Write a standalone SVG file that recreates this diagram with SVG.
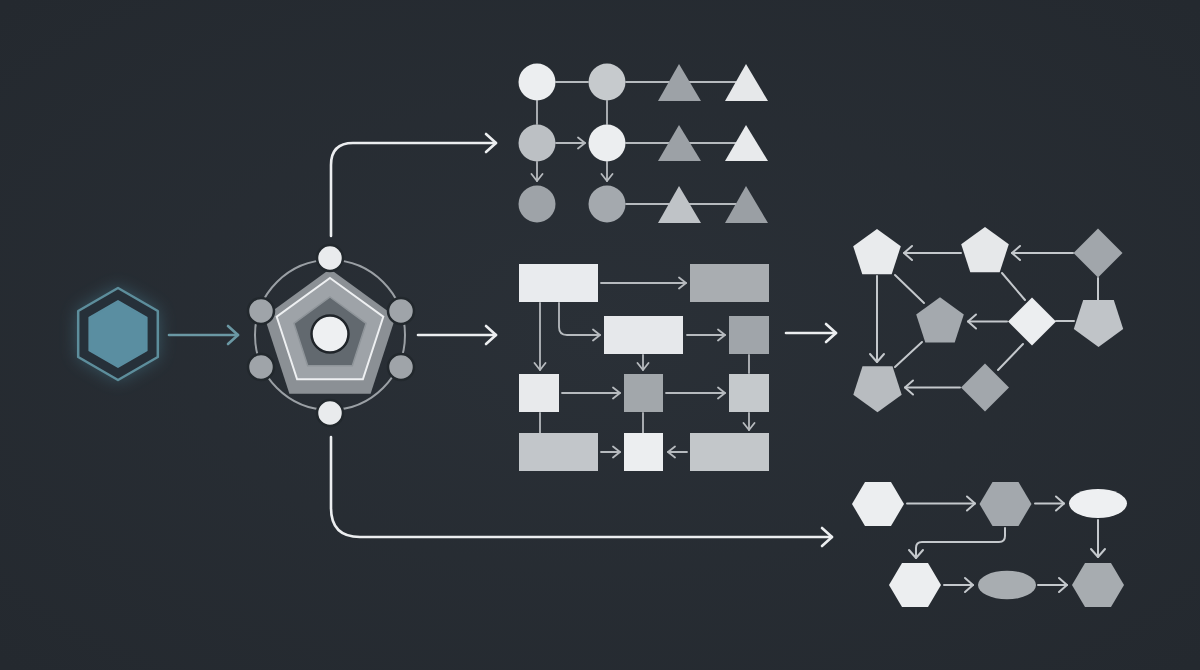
<svg xmlns="http://www.w3.org/2000/svg" width="1200" height="670" viewBox="0 0 1200 670">
  <style>
    .main { fill: none; stroke: #eceef0; stroke-width: 2.6; stroke-linecap: round; stroke-linejoin: round; }
    .teal { fill: none; stroke: #6b98a4; stroke-width: 2.6; stroke-linecap: round; }
    .med { fill: none; stroke: #c4c8cc; stroke-width: 2; stroke-linecap: round; stroke-linejoin: round; }
    .sm { fill: none; stroke: #b6babe; stroke-width: 1.8; stroke-linecap: round; stroke-linejoin: round; }
    .light { fill: #eceef0; }
    .lgray { fill: #c3c7cb; }
    .gray { fill: #a2a7ac; }
    .node-ring { stroke: #22282d; stroke-width: 2.5; }
  </style>
  <defs>
    <marker id="mBig" markerUnits="userSpaceOnUse" markerWidth="14" markerHeight="22" refX="12" refY="11" orient="auto">
      <path d="M2,2 L12,11 L2,20" fill="none" stroke="#eceef0" stroke-width="2.6" stroke-linecap="round" stroke-linejoin="round"/>
    </marker>
    <marker id="mTeal" markerUnits="userSpaceOnUse" markerWidth="14" markerHeight="22" refX="12" refY="11" orient="auto">
      <path d="M2,2 L12,11 L2,20" fill="none" stroke="#6b98a4" stroke-width="2.6" stroke-linecap="round" stroke-linejoin="round"/>
    </marker>
    <marker id="mMed" markerUnits="userSpaceOnUse" markerWidth="12" markerHeight="18" refX="10" refY="9" orient="auto">
      <path d="M2,2 L10,9 L2,16" fill="none" stroke="#c4c8cc" stroke-width="2" stroke-linecap="round" stroke-linejoin="round"/>
    </marker>
    <marker id="mSm" markerUnits="userSpaceOnUse" markerWidth="10" markerHeight="14" refX="8.5" refY="7" orient="auto">
      <path d="M1.5,1.5 L8.5,7 L1.5,12.5" fill="none" stroke="#b6babe" stroke-width="1.8" stroke-linecap="round" stroke-linejoin="round"/>
    </marker>
    <filter id="glow" x="-60%" y="-60%" width="220%" height="220%">
      <feGaussianBlur stdDeviation="9"/>
    </filter>
    <radialGradient id="bg" cx="50%" cy="50%" r="70%">
      <stop offset="0" stop-color="#2a3037"/>
      <stop offset="1" stop-color="#24292f"/>
    </radialGradient>
  </defs>

  <rect x="0" y="0" width="1200" height="670" fill="url(#bg)"/>

  <!-- Connectors -->
  <g id="connectors">
    <!-- main -->
    <path class="teal" d="M169,335 H238" marker-end="url(#mTeal)"/>
    <path class="main" d="M331,236 V165 Q331,143 353,143 H496" marker-end="url(#mBig)"/>
    <path class="main" d="M418,335 H496" marker-end="url(#mBig)"/>
    <path class="main" d="M331,437 V508 Q331,537 360,537 H832" marker-end="url(#mBig)"/>
    <path class="main" d="M786,333 H836" marker-end="url(#mBig)"/>

    <!-- top grid -->
    <path class="sm" d="M556,82 H588"/>
    <path class="sm" d="M626,82 H669"/>
    <path class="sm" d="M689,82 H736"/>
    <path class="sm" d="M537,101 V124"/>
    <path class="sm" d="M607,101 V124"/>
    <path class="sm" d="M556,143 H585" marker-end="url(#mSm)"/>
    <path class="sm" d="M626,143 H669"/>
    <path class="sm" d="M689,143 H736"/>
    <path class="sm" d="M537,162 V181" marker-end="url(#mSm)"/>
    <path class="sm" d="M607,162 V181" marker-end="url(#mSm)"/>
    <path class="sm" d="M626,204 H669"/>
    <path class="sm" d="M689,204 H736"/>

    <!-- middle grid -->
    <path class="sm" d="M601,283 H686" marker-end="url(#mSm)"/>
    <path class="sm" d="M540,303 V370" marker-end="url(#mSm)"/>
    <path class="sm" d="M559,303 V327 Q559,335 567,335 H600" marker-end="url(#mSm)"/>
    <path class="sm" d="M687,335 H725" marker-end="url(#mSm)"/>
    <path class="sm" d="M643,355 V370" marker-end="url(#mSm)"/>
    <path class="sm" d="M749,355 V373"/>
    <path class="sm" d="M562,393 H620" marker-end="url(#mSm)"/>
    <path class="sm" d="M666,393 H725" marker-end="url(#mSm)"/>
    <path class="sm" d="M540,413 V433"/>
    <path class="sm" d="M643,413 V433"/>
    <path class="sm" d="M749,413 V430" marker-end="url(#mSm)"/>
    <path class="sm" d="M601,452 H620" marker-end="url(#mSm)"/>
    <path class="sm" d="M687,452 H668" marker-end="url(#mSm)"/>

    <!-- right graph -->
    <path class="med" d="M961,253 H904" marker-end="url(#mMed)"/>
    <path class="med" d="M1073,253 H1012" marker-end="url(#mMed)"/>
    <path class="med" d="M877,276 V362" marker-end="url(#mMed)"/>
    <path class="med" d="M895,275 L924,303"/>
    <path class="med" d="M1002,273 L1025,300"/>
    <path class="med" d="M1007,321.5 H968" marker-end="url(#mMed)"/>
    <path class="med" d="M1098,278 V300"/>
    <path class="med" d="M1056,321 H1074"/>
    <path class="med" d="M922,342 L895,367"/>
    <path class="med" d="M1023,344 L998,370"/>
    <path class="med" d="M960,387.5 H905" marker-end="url(#mMed)"/>

    <!-- bottom right -->
    <path class="med" d="M907,503.5 H975" marker-end="url(#mMed)"/>
    <path class="med" d="M1035,503.5 H1064" marker-end="url(#mMed)"/>
    <path class="med" d="M1098,520 V557" marker-end="url(#mMed)"/>
    <path class="med" d="M1005,528 V536 Q1005,542 999,542 H922 Q916,542 916,548 V558" marker-end="url(#mMed)"/>
    <path class="med" d="M944,585 H973" marker-end="url(#mMed)"/>
    <path class="med" d="M1038,585 H1067" marker-end="url(#mMed)"/>
  </g>

  <!-- Source hexagon -->
  <g id="source">
    <polygon points="118,288 157.8,311 157.8,357 118,380 78.2,357 78.2,311" fill="#4f8fa5" opacity="0.45" filter="url(#glow)"/>
    <polygon points="118,288 157.8,311 157.8,357 118,380 78.2,357 78.2,311" fill="#263039" stroke="#5d8e9c" stroke-width="2.5" stroke-linejoin="round"/>
    <polygon points="118,301 146.6,317.5 146.6,350.5 118,367 89.4,350.5 89.4,317.5" fill="#5a8ea1" stroke="#5a8ea1" stroke-width="2" stroke-linejoin="round"/>
  </g>

  <!-- Central hub -->
  <g id="hub">
    <circle cx="330" cy="335" r="75" fill="none" stroke="#9ba0a5" stroke-width="2"/>
    <polygon points="330,269 395.6,316.7 370.6,393.8 289.4,393.8 264.4,316.7" fill="#8b9095"/>
    <polygon points="330,278 383.3,316.7 362.9,379.3 297.1,379.3 276.7,316.7" fill="#9ea3a8" stroke="#eef0f2" stroke-width="2"/>
    <polygon points="330,297 366.1,323.3 352.3,365.7 307.7,365.7 293.9,323.3" fill="#62696f" stroke="#8f959a" stroke-width="1.5"/>
    <circle cx="330" cy="334" r="18.5" fill="#eef0f2" stroke="#1f2429" stroke-width="2.5"/>
  </g>
  <g id="hub-node-top"><circle cx="330" cy="258" r="13" fill="#e9ebed" class="node-ring"/></g>
  <g id="hub-node-bottom"><circle cx="330" cy="413" r="13" fill="#e9ebed" class="node-ring"/></g>
  <g id="hub-node-ul"><circle cx="261" cy="311" r="13" fill="#9fa4a9" class="node-ring"/></g>
  <g id="hub-node-ur"><circle cx="401" cy="311" r="13" fill="#9fa4a9" class="node-ring"/></g>
  <g id="hub-node-ll"><circle cx="261" cy="367" r="13" fill="#9fa4a9" class="node-ring"/></g>
  <g id="hub-node-lr"><circle cx="401" cy="367" r="13" fill="#9fa4a9" class="node-ring"/></g>

  <!-- Top grid -->
  <g id="t-c11"><circle cx="537" cy="82" r="18.5" fill="#eceef0"/></g>
  <g id="t-c12"><circle cx="607" cy="82" r="18.5" fill="#c6cacd"/></g>
  <g id="t-t13"><polygon points="679,64 701,101 658,101" fill="#9da2a7"/></g>
  <g id="t-t14"><polygon points="746,64 768,101 725,101" fill="#e6e8ea"/></g>
  <g id="t-c21"><circle cx="537" cy="143" r="18.5" fill="#bcc0c4"/></g>
  <g id="t-c22"><circle cx="607" cy="143" r="18.5" fill="#eceef0"/></g>
  <g id="t-t23"><polygon points="679,125 701,161 658,161" fill="#9ca1a6"/></g>
  <g id="t-t24"><polygon points="746,125 768,161 725,161" fill="#e8eaec"/></g>
  <g id="t-c31"><circle cx="537" cy="204" r="18.5" fill="#9ea3a8"/></g>
  <g id="t-c32"><circle cx="607" cy="204" r="18.5" fill="#a4a9ae"/></g>
  <g id="t-t33"><polygon points="679,186 701,223 658,223" fill="#bfc3c7"/></g>
  <g id="t-t34"><polygon points="746,186 768,223 725,223" fill="#9a9fa4"/></g>

  <!-- Middle grid -->
  <g id="m-a"><rect x="519" y="264" width="79" height="38" fill="#e9ebee"/></g>
  <g id="m-b"><rect x="690" y="264" width="79" height="38" fill="#a9adb1"/></g>
  <g id="m-c"><rect x="604" y="316" width="79" height="38" fill="#e6e8eb"/></g>
  <g id="m-d"><rect x="729" y="316" width="40" height="38" fill="#a0a5aa"/></g>
  <g id="m-e"><rect x="519" y="374" width="40" height="38" fill="#e8eaec"/></g>
  <g id="m-f"><rect x="624" y="374" width="39" height="38" fill="#a2a7ab"/></g>
  <g id="m-g"><rect x="729" y="374" width="40" height="38" fill="#c5c9cc"/></g>
  <g id="m-h"><rect x="519" y="433" width="79" height="38" fill="#c2c6ca"/></g>
  <g id="m-i"><rect x="624" y="433" width="39" height="38" fill="#eceef0"/></g>
  <g id="m-j"><rect x="690" y="433" width="79" height="38" fill="#c3c7ca"/></g>

  <!-- Right graph -->
  <g id="r-p1"><polygon points="877,229 900.8,246.3 891.7,274.2 862.3,274.2 853.2,246.3" fill="#e9ebed"/></g>
  <g id="r-p2"><polygon points="985,227 1008.8,244.3 999.7,272.2 970.3,272.2 961.2,244.3" fill="#e6e8ea"/></g>
  <g id="r-d1"><polygon points="1098,228.5 1122.5,253 1098,277.5 1073.5,253" fill="#a1a6ab"/></g>
  <g id="r-p3"><polygon points="940,297.3 963.8,314.6 954.7,342.5 925.3,342.5 916.2,314.6" fill="#a4a9ae"/></g>
  <g id="r-d2"><polygon points="1032,297.5 1056,321.5 1032,345.5 1008,321.5" fill="#eceef0"/></g>
  <g id="r-p4"><polygon points="1083.2,300 1113.8,300 1123.2,329 1098.5,347 1073.8,329" fill="#c0c4c8"/></g>
  <g id="r-p5"><polygon points="862.5,366.2 892.5,366.2 901.7,394.7 877.5,412.3 853.3,394.7" fill="#b8bcc0"/></g>
  <g id="r-d3"><polygon points="985,363.5 1009,387.5 985,411.5 961,387.5" fill="#a2a7ac"/></g>

  <!-- Bottom right flow -->
  <g id="b-h1"><polygon points="852,504 865,482 891,482 904,504 891,526 865,526" fill="#eceef0"/></g>
  <g id="b-h2"><polygon points="979.5,504 992.5,482 1018.5,482 1031.5,504 1018.5,526 992.5,526" fill="#a3a8ad"/></g>
  <g id="b-e1"><ellipse cx="1098" cy="503.5" rx="29" ry="14.5" fill="#eef0f2"/></g>
  <g id="b-h3"><polygon points="889,585 902,563 928,563 941,585 928,607 902,607" fill="#eceef0"/></g>
  <g id="b-e2"><ellipse cx="1007" cy="585" rx="29" ry="14.3" fill="#a8adb1"/></g>
  <g id="b-h4"><polygon points="1072,585 1085,563 1111,563 1124,585 1111,607 1085,607" fill="#a7acb0"/></g>
</svg>
